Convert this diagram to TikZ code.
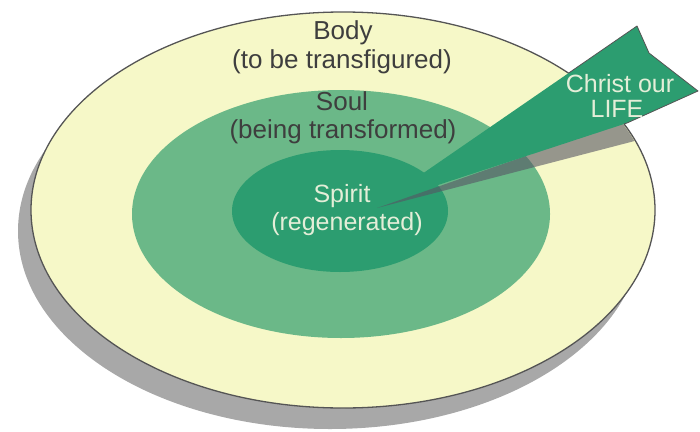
\documentclass[tikz,border=0pt]{standalone}
\usepackage{fontspec}
\setmainfont{Liberation Sans}
\usetikzlibrary{intersections}
\definecolor{bodyyellow}{HTML}{F6F8C8}
\definecolor{soulgreen}{HTML}{6BB888}
\definecolor{spiritgreen}{HTML}{2C9D70}
\definecolor{shadowgray}{HTML}{A8A8A8}
\definecolor{rimgray}{HTML}{555555}
\definecolor{wedgegray}{HTML}{565564}
\definecolor{textdark}{HTML}{3E3E3E}
\definecolor{textlight}{HTML}{E4EED8}
\begin{document}
\begin{tikzpicture}[x=1pt,y=-1pt,
  darklbl/.style={anchor=base, inner sep=0pt, text=textdark, font=\fontsize{26}{30}\selectfont},
  lightlbl/.style={anchor=base, inner sep=0pt, text=textlight, font=\fontsize{25}{30}\selectfont},
  rim/.style={draw=rimgray, line width=1.3pt}]
\useasboundingbox (0,0) rectangle (700,431);
% shadow of the disc
\fill[shadowgray] (330,231) ellipse [x radius=312, y radius=198];
% body disc
\path[fill=bodyyellow, rim, name path=outerE] (343,210) ellipse [x radius=312, y radius=198];
% soul
\fill[soulgreen] (341,214) ellipse [x radius=209, y radius=124];
% spirit
\fill[spiritgreen] (340,211) ellipse [x radius=108, y radius=61];
% arrow points
\coordinate (tip) at (377,205);
\coordinate (gtip) at (377,208);
\coordinate (atop) at (637,26);
\coordinate (anotch) at (649,53);
\coordinate (aright) at (698,91);
\coordinate (aback) at (627,123);
\coordinate (gright) at (700,124);
\coordinate (gup) at (700,95);
% gray shadow wedge of the arrow, on the disc only
\begin{scope}
  \clip (343,210) ellipse [x radius=311, y radius=197];
  \fill[wedgegray, opacity=0.6] (gtip) -- (gup) -- (gright) -- cycle;
\end{scope}
% the arrow
\fill[spiritgreen] (tip) -- (atop) -- (anotch) -- (aright) -- (aback) -- cycle;
\path[name path=upperE] (tip) -- (atop);
\path[name path=lowerE] (tip) -- (aback);
\path[name intersections={of=outerE and upperE, by=xu}];
\path[name intersections={of=outerE and lowerE, by=xl}];
\draw[rimgray, line width=0.8pt, line join=round] (xu) -- (atop) -- (anotch) -- (aright) -- (aback) -- (xl);
% labels
\node[darklbl] (body) at (343,39) {Body};
\node[darklbl] (bodyb) at (342,68) {(to be transfigured)};
\node[darklbl] (soul) at (342,110) {Soul};
\node[darklbl] (soulb) at (343,138) {(being transformed)};
\node[lightlbl] (spirit) at (342,202) {Spirit};
\node[lightlbl] (spiritb) at (347,230) {(regenerated)};
\node[lightlbl] (christ) at (620,92) {Christ our};
\node[lightlbl] (life) at (617,117) {LIFE};
\end{tikzpicture}
\end{document}
